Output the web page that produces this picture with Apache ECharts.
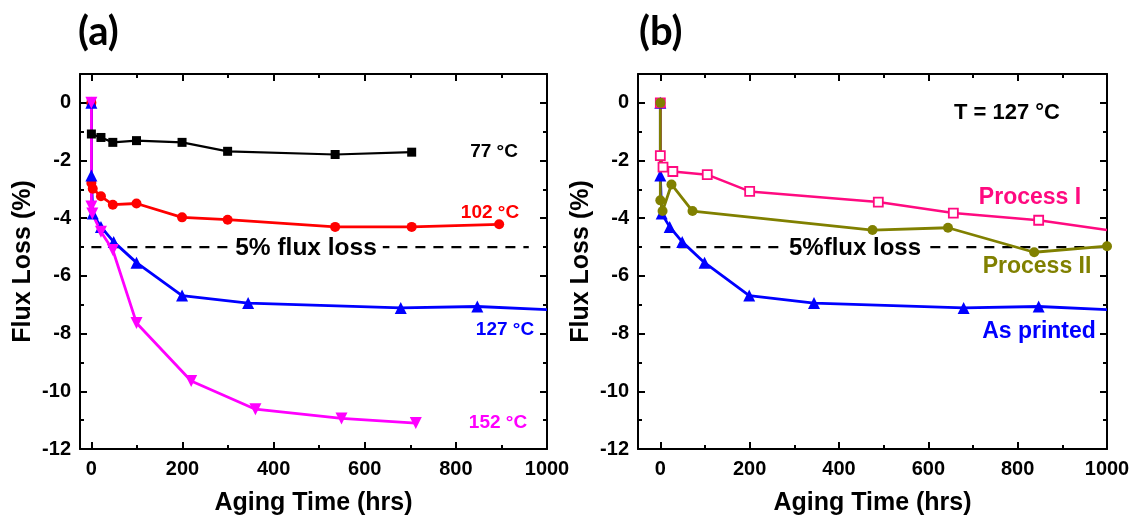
<!DOCTYPE html>
<html>
<head>
<meta charset="utf-8">
<script src="https://cdn.jsdelivr.net/npm/echarts@6/dist/echarts.min.js"></script>
<style>
html,body{margin:0;padding:0;background:#fff;}
#main{width:1135px;height:521px;}
</style>
</head>
<body>
<div id="main"></div>
<script>
// ---- data ----
const xTickLabels = [0, 200, 400, 600, 800, 1000];
const xMinorTicks = [100, 300, 500, 700, 900];
const yTickLabels = [0, -2, -4, -6, -8, -10, -12];
const yMinorTicks = [-1, -3, -5, -7, -9, -11];

// panel (a)
const hrs77 = [0, 0, 21, 47, 99, 199, 299, 535, 703];
const loss77 = [0, -1.08, -1.2, -1.37, -1.31, -1.37, -1.68, -1.79, -1.71];
const hrs102 = [0, 0, 3, 21, 47, 99, 199, 299, 535, 703, 895];
const loss102 = [0, -2.78, -2.98, -3.24, -3.53, -3.49, -3.97, -4.05, -4.3, -4.3, -4.21];
const hrs127 = [0, 0, 3, 21, 49, 99, 199, 344, 679, 847, 1000];
const loss127 = [0, -2.52, -3.84, -4.3, -4.82, -5.54, -6.68, -6.94, -7.11, -7.06, -7.17];
const hrs152 = [0, 0, 2, 21, 47, 99, 219, 360, 549, 712];
const loss152 = [0, -3.59, -3.84, -4.47, -5.1, -7.63, -9.64, -10.62, -10.94, -11.1];

// panel (b)
const hrsP1 = [0, 0, 6, 28, 105, 200, 488, 656, 847, 1000];
const lossP1 = [0, -1.83, -2.23, -2.38, -2.49, -3.07, -3.44, -3.82, -4.07, -4.41];
const hrsP2 = [0, 0, 5, 25, 72, 475, 644, 837, 1000];
const lossP2 = [0, -3.38, -3.75, -2.83, -3.75, -4.41, -4.33, -5.18, -4.97];

const limitHrsA = [0, 960];
const limitHrsB = [0, 990];
const limitLoss = [-5, -5];

// ---- chart ----
const FONT = "'Liberation Sans', Arial, sans-serif";
const chart = echarts.init(document.getElementById('main'), null, {renderer: 'canvas'});

function pairs(xs, ys, hideLastSymbol) {
  return xs.map((x, i) => {
    if (hideLastSymbol && i === xs.length - 1) return {value: [x, ys[i]], symbol: 'none'};
    return [x, ys[i]];
  });
}

const grids = [
  {left: 80, top: 74, width: 467, height: 376},
  {left: 638, top: 74, width: 469, height: 376}
];
const xMins = [-25, -50];

const xAxes = [], yAxes = [];
const line = {show: true, onZero: false, lineStyle: {color: '#000', width: 2}};
const noLine = {show: false, onZero: false};
const labelStyle = {fontFamily: FONT, fontWeight: 'bold', fontSize: 20, color: '#000',
  formatter: v => String(v)};
const nameStyle = {fontFamily: FONT, fontWeight: 'bold', fontSize: 25, color: '#000'};

for (let g = 0; g < 2; g++) {
  const xBase = {type: 'value', gridIndex: g, min: xMins[g], max: 1000, splitLine: {show: false}};
  const yBase = {type: 'value', gridIndex: g, min: -12, max: 1, splitLine: {show: false}};
  xAxes.push(Object.assign({}, xBase, {
    position: 'bottom', axisLine: line,
    axisTick: {show: true, inside: true, length: 7, customValues: xTickLabels, lineStyle: {color: '#000', width: 2}},
    axisLabel: Object.assign({show: true, margin: 10, customValues: xTickLabels}, labelStyle),
    name: 'Aging Time (hrs)', nameLocation: 'middle', nameGap: 42, nameTextStyle: nameStyle
  }));
  xAxes.push(Object.assign({}, xBase, {
    position: 'bottom', axisLine: noLine,
    axisTick: {show: true, inside: true, length: 4, customValues: xMinorTicks, lineStyle: {color: '#000', width: 2}},
    axisLabel: {show: false}
  }));
  xAxes.push(Object.assign({}, xBase, {
    position: 'top', axisLine: line,
    axisTick: {show: true, inside: true, length: 7, customValues: xTickLabels, lineStyle: {color: '#000', width: 2}},
    axisLabel: {show: false}
  }));
  xAxes.push(Object.assign({}, xBase, {
    position: 'top', axisLine: noLine,
    axisTick: {show: true, inside: true, length: 4, customValues: xMinorTicks, lineStyle: {color: '#000', width: 2}},
    axisLabel: {show: false}
  }));
  yAxes.push(Object.assign({}, yBase, {
    position: 'left', axisLine: line,
    axisTick: {show: true, inside: true, length: 7, customValues: yTickLabels, lineStyle: {color: '#000', width: 2}},
    axisLabel: Object.assign({show: true, margin: 9, customValues: yTickLabels}, labelStyle),
    name: 'Flux Loss (%)', nameLocation: 'middle', nameGap: 44, nameTextStyle: nameStyle
  }));
  yAxes.push(Object.assign({}, yBase, {
    position: 'left', axisLine: noLine,
    axisTick: {show: true, inside: true, length: 4, customValues: yMinorTicks, lineStyle: {color: '#000', width: 2}},
    axisLabel: {show: false}
  }));
  yAxes.push(Object.assign({}, yBase, {
    position: 'right', axisLine: line,
    axisTick: {show: true, inside: true, length: 7, customValues: yTickLabels, lineStyle: {color: '#000', width: 2}},
    axisLabel: {show: false}
  }));
  yAxes.push(Object.assign({}, yBase, {
    position: 'right', axisLine: noLine,
    axisTick: {show: true, inside: true, length: 4, customValues: yMinorTicks, lineStyle: {color: '#000', width: 2}},
    axisLabel: {show: false}
  }));
}

function ser(g, name, data, color, symbol, size, width, extra) {
  return Object.assign({
    type: 'line', name: name, xAxisIndex: g * 4, yAxisIndex: g * 4,
    data: data, symbol: symbol, symbolSize: size, showSymbol: true,
    lineStyle: {color: color, width: width},
    itemStyle: {color: color},
    animation: false, z: 3
  }, extra || {});
}

const series = [
  ser(0, 'limitA', pairs(limitHrsA, limitLoss), '#000', 'none', 0, 2.2,
      {lineStyle: {color: '#000', width: 2.2, type: [10, 8]}, z: 1}),
  ser(0, '77 °C', pairs(hrs77, loss77), '#000', 'rect', 9, 2.2),
  ser(0, '102 °C', pairs(hrs102, loss102), '#ff0000', 'circle', 10, 2.8),
  ser(0, '127 °C', pairs(hrs127, loss127, true), '#0000ff', 'triangle', 12, 2.8),
  ser(0, '152 °C', pairs(hrs152, loss152), '#ff00ff', 'triangle', 12, 2.8, {symbolRotate: 180}),
  ser(1, 'limitB', pairs(limitHrsB, limitLoss), '#000', 'none', 0, 2.2,
      {lineStyle: {color: '#000', width: 2.2, type: [10, 8]}, z: 1}),
  ser(1, 'As printed', pairs(hrs127, loss127, true), '#0000ff', 'triangle', 12, 2.8),
  ser(1, 'Process I', pairs(hrsP1, lossP1, true), '#ff0a80', 'rect', 9, 2.5,
      {itemStyle: {color: '#fff', borderColor: '#ff0a80', borderWidth: 1.8}}),
  ser(1, 'Process II', pairs(hrsP2, lossP2), '#808000', 'circle', 10, 2.8)
];

function txt(text, x, y, color, size, bg) {
  const st = {text: text, x: x, y: y, fill: color, align: 'center', verticalAlign: 'middle',
    font: 'bold ' + size + 'px ' + FONT};
  if (bg) { st.backgroundColor = '#fff'; st.padding = [0, 6]; }
  return {type: 'text', z: 100, style: st};
}

const titleStyle = {fontFamily: "Lato, 'Open Sans', sans-serif", fontWeight: 'bold', fontSize: 40, color: '#000'};
const option = {
  animation: false,
  backgroundColor: '#fff',
  grid: grids,
  xAxis: xAxes,
  yAxis: yAxes,
  series: series,
  title: [
    {text: '(a)', left: 73, top: 7, textStyle: titleStyle},
    {text: '(b)', left: 634, top: 7, textStyle: titleStyle}
  ],
  graphic: [
    txt('77 °C', 494, 152, '#000', 19),
    txt('102 °C', 490, 213, '#ff0000', 19),
    txt('127 °C', 505, 330, '#0000ff', 19),
    txt('152 °C', 498, 423, '#ff00ff', 19),
    txt('5% flux loss', 306, 248, '#000', 24.5, true),
    txt('T = 127 °C', 1007, 113, '#000', 22),
    txt('Process I', 1030, 198, '#ff0a80', 23),
    txt('Process II', 1037, 267, '#808000', 23),
    txt('As printed', 1039, 332, '#0000ff', 23),
    txt('5%flux loss', 855, 248, '#000', 24, true)
  ]
};
chart.setOption(option);
</script>
</body>
</html>
